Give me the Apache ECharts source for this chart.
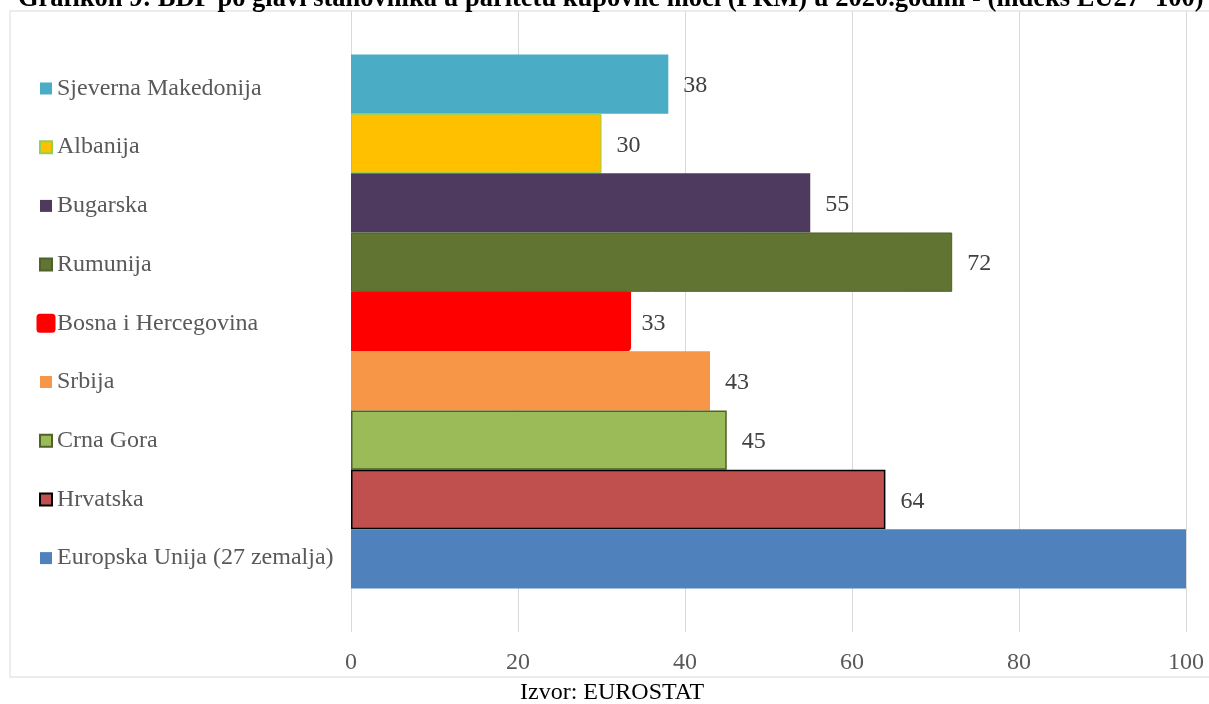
<!DOCTYPE html>
<html>
<head>
<meta charset="utf-8">
<script src="https://cdn.jsdelivr.net/npm/echarts@6/dist/echarts.min.js"></script>
<style>html,body{margin:0;padding:0;background:#fff}#c{width:1209px;height:704px}</style>
</head>
<body>
<div id="c"></div>
<script>
// Top-to-bottom order as shown in the chart
const countries = ['Sjeverna Makedonija','Albanija','Bugarska','Rumunija','Bosna i Hercegovina','Srbija','Crna Gora','Hrvatska','Europska Unija (27 zemalja)'];
const values = [38, 30, 55, 72, 33, 43, 45, 64, 100];
const colors = ['#4BACC6','#FFC000','#4E3A5E','#617431','#FF0000','#F79646','#9BBB59','#C0504D','#4F81BD'];
const borders = [null,'#92D050',null,'#4F6228',null,null,'#4F6228','#000000',null];
const xTicks = [0, 20, 40, 60, 80, 100];
const titleText = 'Grafikon 9: BDP po glavi stanovnika u paritetu kupovne moći (PKM) u 2020.godini - (indeks EU27=100)';
const sourceText = 'Izvor: EUROSTAT';

const FONT = '"Liberation Serif", "Times New Roman", serif';
const BIH = 'Bosna i Hercegovina';
const EU = 'Europska Unija (27 zemalja)';

const series = countries.map((name, i) => {
  const isBih = name === BIH;
  const itemStyle = {
    color: colors[i],
    borderColor: borders[i] || colors[i],
    borderWidth: borders[i] ? (i === 7 || i === 6 ? 1.5 : 1) : 0
  };
  if (isBih) {
    // thick red outline look: bar extends a little to the right, rounded corner
    itemStyle.borderRadius = [0, 0, 4, 0];
    itemStyle.shadowColor = '#FF0000';
    itemStyle.shadowBlur = 0;
    itemStyle.shadowOffsetX = 4.5;
    itemStyle.shadowOffsetY = 0;
  }
  return {
    name: name,
    type: 'bar',
    barGap: '0%',
    barCategoryGap: '14%',
    data: [values[i]],
    itemStyle: itemStyle,
    label: {
      show: name !== EU,
      position: 'right',
      distance: 15,
      offset: [0, 2],
      fontFamily: FONT,
      fontSize: 24,
      color: '#404040'
    },
    emphasis: {disabled: true}
  };
});

const legendData = countries.map(name => name === BIH
  ? {name: name, icon: 'rect', itemStyle: {borderWidth: 7, borderColor: '#FF0000', borderJoin: 'round', shadowColor: 'rgba(0,0,0,0)', shadowOffsetX: 0, shadowOffsetY: 0}}
  : {name: name, icon: 'rect'});

const chart = echarts.init(document.getElementById('c'));
chart.setOption({
  animation: false,
  grid: {left: 351, right: 23, top: 11, bottom: 72, containLabel: false},
  xAxis: {
    type: 'value', min: xTicks[0], max: xTicks[xTicks.length-1], interval: 20,
    axisLine: {show: false}, axisTick: {show: false},
    splitLine: {show: true, lineStyle: {color: '#D9D9D9', width: 1}},
    axisLabel: {fontFamily: FONT, fontSize: 24, color: '#595959', margin: 19}
  },
  yAxis: {
    type: 'category', data: ['2020'], inverse: true,
    axisLine: {show: false}, axisTick: {show: false}, axisLabel: {show: false}
  },
  legend: {
    orient: 'vertical',
    left: 36.5,
    top: 76.5,
    padding: 0,
    itemWidth: 12,
    itemHeight: 12,
    itemGap: 34.7,
    selectedMode: false,
    textStyle: {fontFamily: FONT, fontSize: 24, color: '#595959', lineHeight: 24},
    data: legendData
  },
  graphic: [
    {type: 'rect', silent: true, shape: {x: 10, y: 11, width: 1250, height: 666},
     style: {fill: 'none', stroke: '#D9D9D9', lineWidth: 1}},
    {type: 'text', silent: true, x: 18, y: -1,
     style: {text: titleText, font: 'bold 26.5px ' + FONT, fill: '#000', verticalAlign: 'middle'}},
    {type: 'text', silent: true, x: 520, y: 693,
     style: {text: sourceText, font: '24px ' + FONT, fill: '#000', verticalAlign: 'middle'}}
  ],
  series: series
});
</script>
</body>
</html>
